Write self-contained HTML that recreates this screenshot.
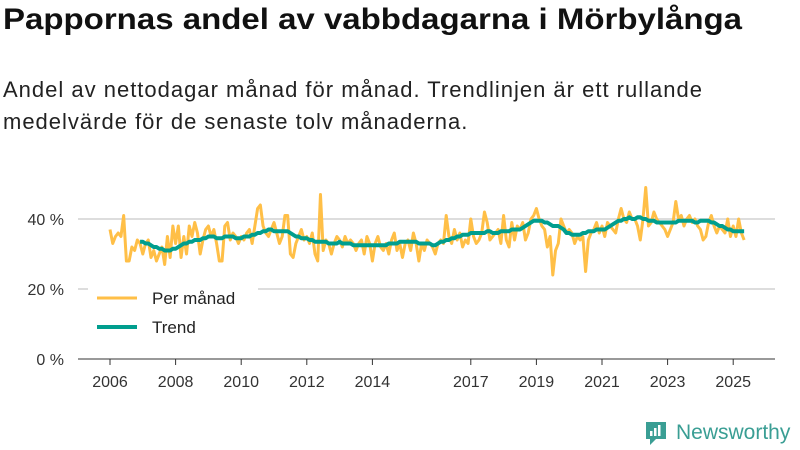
<!DOCTYPE html>
<html><head><meta charset="utf-8"><style>
body{margin:0;width:800px;height:450px;background:#fff;font-family:"Liberation Sans","DejaVu Sans",sans-serif;overflow:hidden;position:relative;color:#111}
h1{position:absolute;left:3px;top:3px;margin:0;font-size:30px;font-weight:bold;white-space:nowrap;transform:scaleX(1.1);transform-origin:left top}
p{position:absolute;left:3px;top:74px;margin:0;font-size:22px;letter-spacing:1px;line-height:32px;color:#222;width:740px}
svg{position:absolute;left:0;top:0}
</style></head><body>
<h1>Pappornas andel av vabbdagarna i Mörbylånga</h1>
<p>Andel av nettodagar månad för månad. Trendlinjen är ett rullande<br>medelvärde för de senaste tolv månaderna.</p>
<svg id="chart" width="800" height="450"></svg>
<div style="position:absolute;left:644px;top:420px;display:flex;align-items:center">
<svg width="24" height="26" style="position:static"><path d="M2 2h20v17h-10l-6 6v-6h-4z" fill="#3a9e94"/><rect x="6" y="11" width="2.5" height="5" fill="#fff"/><rect x="10" y="8" width="2.5" height="8" fill="#fff"/><rect x="14" y="5" width="2.5" height="11" fill="#fff"/></svg>
<span style="color:#3a9e94;font-size:21px;margin-left:8px">Newsworthy</span></div>
<script>
const yTicks=[0,20,40];
const xTickYears=[2006,2008,2010,2012,2014,2017,2019,2021,2023,2025];
const monthly=[
37,33,35,36,35,41,28,28,32,31,34,33,
30,33,34,29,31,28,30,32,27,35,29,38,
33,38,29,35,30,38,35,39,36,30,34,37,
38,35,37,33,28,28,38,39,34,36,35,33,
35,34,36,37,33,38,43,44,38,36,35,37,
39,36,33,35,41,41,30,29,33,35,37,34,
35,33,36,30,28,47,31,34,33,30,33,35,
34,32,35,33,34,33,31,33,34,30,35,33,
28,33,35,32,31,33,30,34,36,31,33,29,
33,34,31,36,33,28,33,31,34,33,32,30,
33,34,33,41,35,33,37,34,36,32,34,33,
40,35,33,34,36,42,39,34,35,36,37,33,
41,34,32,39,34,38,37,39,34,36,40,41,
43,40,38,37,32,35,24,31,33,40,38,36,
37,36,33,35,34,35,25,34,36,37,39,36,
38,35,39,38,37,36,40,43,40,39,42,40,
40,38,34,40,49,38,39,42,40,39,38,37,
35,37,39,45,40,41,38,40,41,39,40,38,
37,34,35,39,41,38,36,38,37,36,40,35,
38,35,40,36,34];
const trendStart=11;
const trend=[33.5,
33.5,33,33,32.5,32,32,31.5,31.5,31,31,31,31.5,
31.5,32,32.5,33,33,33.5,33.5,34,34,34,34.5,34.5,
35,35,35,34.5,34.5,34.5,35,35,35,35,34.5,34.5,
34.5,35,35,35,35.5,35.5,36,36,36.5,36.5,37,37,
36.5,36.5,36.5,36.5,36.5,36.5,36,35.5,35,35,34.5,34.5,
34.5,34,34,33.5,33.5,33.5,33.5,33.5,33,33,33,33,
33.5,33,33,33,33,32.5,32.5,32.5,32.5,32.5,32.5,32.5,
32.5,32.5,32.5,32.5,32.5,32.5,33,33,33,33,33.5,33.5,
33.5,33.5,33.5,33.5,33.5,33,33,33,33,33,32.5,32.5,
33,33.5,33.5,34,34,34.5,34.5,35,35,35.5,35.5,35.5,
36,36,36,36,36,36,36.5,36.5,36,36,36,36.5,
36.5,36.5,36.5,37,37,37,37,37.5,38,38.5,39,39.5,
39.5,39.5,39.5,39,39,38.5,38,38,38,37.5,37,36,
36,35.5,35.5,35.5,35.5,36,36,36.5,36.5,36.5,37,37,
37,37,37.5,38,38.5,39,39.5,39.5,40,40,40.5,40,
40,40.5,40.5,40,40,39.5,39.5,39.5,39,39,39,39,
39,39,39,39,39.5,39.5,39.5,39.5,39.5,39.5,39,39,
39.5,39.5,39.5,39.5,39,39,38.5,38,38,37.5,37,37,
36.5,36.5,36.5,36.5,36.5];
const NS="http://www.w3.org/2000/svg";
const svg=document.getElementById('chart');
const xOfYear=y=>110+(y-2006)*32.8;
const xOfMonth=i=>xOfYear(2006+i/12);
const yOf=v=>359-v*3.5;
function mk(t,a){const e=document.createElementNS(NS,t);for(const k in a)e.setAttribute(k,a[k]);svg.appendChild(e);return e;}
yTicks.forEach(v=>{
  const l=mk('line',{x1:78,x2:775,y1:yOf(v),y2:yOf(v),stroke:v===0?'#333':'#ddd','stroke-width':v===0?1:2});
  
  
  const t=mk('text',{x:64,y:yOf(v)+6,'text-anchor':'end','font-size':16,fill:'#333'});
  t.textContent=v+' %';
  
  
});
xTickYears.forEach(y=>{
  const x=xOfYear(y);
  const l=mk('line',{x1:x,x2:x,y1:359,y2:365,stroke:'#333'});
  
  
  const t=mk('text',{x:x,y:387,'text-anchor':'middle','font-size':16,fill:'#333'});
  t.textContent=y;
  
  
});
const p1=mk('polyline',{points:monthly.map((v,i)=>xOfMonth(i)+','+yOf(v)).join(' '),fill:'none',stroke:'#ffbf47','stroke-width':3,'stroke-linejoin':'round'});


const p2=mk('polyline',{points:trend.map((v,i)=>xOfMonth(i+trendStart)+','+yOf(v)).join(' '),fill:'none',stroke:'#009e8e','stroke-width':4,'stroke-linejoin':'round'});


const bg=mk('rect',{x:88,y:284,width:170,height:58,fill:'#fff'});


[['Per månad','#ffbf47',298,3],['Trend','#009e8e',327,4]].forEach(([n,c,y,w])=>{
  const l=mk('line',{x1:97,x2:137,y1:y,y2:y,stroke:c,'stroke-width':w});
  
  
  const t=mk('text',{x:152,y:y+6,'font-size':17,fill:'#222'});
  t.textContent=n;
  
  
});
</script>
</body></html>
